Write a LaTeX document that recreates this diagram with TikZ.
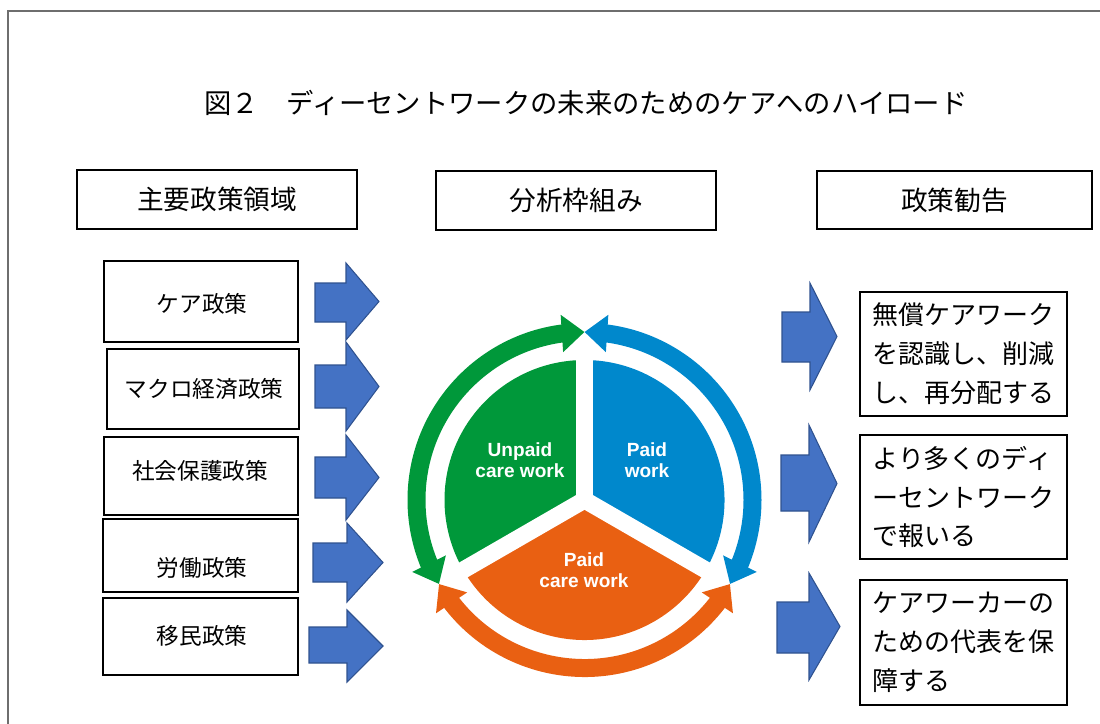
\documentclass[tikz,border=0pt]{standalone}
\usepackage{fontspec}
\setmainfont{Noto Sans CJK JP}
\newfontfamily\latsans{Liberation Sans}
\usetikzlibrary{arrows.meta,bending,calc}
\definecolor{cgreen}{RGB}{0,152,58}
\definecolor{cblue}{RGB}{0,136,204}
\definecolor{corange}{RGB}{233,96,18}
\definecolor{bafill}{RGB}{68,114,196}
\definecolor{baline}{RGB}{47,82,143}
\definecolor{framegray}{RGB}{110,110,110}
\newcommand\myblockarrow[8]{%
  \filldraw[blockarr] (#1,#2) -- (#4,#2) -- (#4,#5) -- (#7,#8) -- (#4,#6) -- (#4,#3) -- (#1,#3) -- cycle;}
\begin{document}
\begin{tikzpicture}[x=0.75pt,y=-0.75pt,
  headbox/.style={draw=black,line width=0.9pt,inner sep=0pt,font=\fontsize{20}{24}\selectfont},
  leftbox/.style={draw=black,line width=2.2pt,inner sep=0pt},
  lefttext/.style={font=\fontsize{17}{20}\selectfont,inner sep=0pt},
  rightbox/.style={draw=black,line width=2.2pt,inner sep=0pt,align=left,minimum width=155.25pt,font=\fontsize{19.5}{29.2}\selectfont},
  blockarr/.style={fill=bafill,draw=baline,line width=0.8pt,line join=miter},
  seclabel/.style={text=white,font=\latsans\bfseries\fontsize{14.3}{16}\selectfont,align=center,inner sep=0pt},
  cyclearr/.style={line width=13.5pt,arrows={Triangle[width=27pt,length=17pt]-Triangle[width=27pt,length=17pt]}}
]
\useasboundingbox (0,0) rectangle (1100,724);
\draw[framegray,line width=0.8pt] (8,724) -- (8,11) -- (1100,11);

% title
\node[font=\fontsize{20.5}{24}\selectfont,inner sep=0pt] (title) at (586,103) {図２　ディーセントワークの未来のためのケアへのハイロード};

% headers
\node[headbox,minimum width=210pt,minimum height=44.25pt] (hA) at (217,199.5) {主要政策領域};
\node[headbox,minimum width=210pt,minimum height=44.25pt] (hB) at (576,200.5) {分析枠組み};
\node[headbox,minimum width=206.25pt,minimum height=43.5pt] (hC) at (954.5,200) {政策勧告};

% left boxes
\node[leftbox,minimum width=145.5pt,minimum height=60.75pt] (b1) at (201,301.5) {};
\node[leftbox,minimum width=144pt,minimum height=60pt] (b2) at (203,389) {};
\node[leftbox,minimum width=145.5pt,minimum height=58.5pt] (b3) at (201,476) {};
\node[leftbox,minimum width=146.25pt,minimum height=54.75pt] (b4) at (200.5,555.5) {};
\node[leftbox,minimum width=146.25pt,minimum height=57.75pt] (b5) at (200.5,636.5) {};
\node[lefttext] (t1) at (202,304) {ケア政策};
\node[lefttext] (t2) at (204,389) {マクロ経済政策};
\node[lefttext] (t3) at (200,471) {社会保護政策};
\node[lefttext] (t4) at (202,568) {労働政策};
\node[lefttext] (t5) at (202,636) {移民政策};

% left block arrows
\myblockarrow{315}{283}{322}{346}{263}{340}{379}{301.5}
\myblockarrow{315}{365}{408}{346}{342}{431}{379}{386.5}
\myblockarrow{315}{457}{498}{346}{435}{520}{379}{477.5}
\myblockarrow{313}{543}{582}{347}{523}{602}{383}{562.5}
\myblockarrow{309}{627}{663}{347}{610}{682}{383}{646}

% right block arrows
\myblockarrow{782}{312}{362}{810}{283}{390}{837}{336.5}
\myblockarrow{781}{455}{511}{809}{425}{542}{837}{483.5}
\myblockarrow{777}{602}{653}{809}{573}{680}{840}{626.5}

% right boxes
\node[rightbox,minimum height=93pt] (r1) at (963.5,354) {無償ケアワーク\\を認識し、削減\\し、再分配する};
\node[rightbox,minimum height=93pt] (r2) at (963.5,497) {より多くのディ\\ーセントワーク\\で報いる};
\node[rightbox,minimum height=93.75pt] (r3) at (963.5,642.5) {ケアワーカーの\\ための代表を保\\障する};

% circle
\coordinate (c) at (584.5,500);
\fill[cgreen] (c) -- ++(-90:140) arc[start angle=-90,end angle=-210,radius=140] -- cycle;
\fill[cblue] (c) -- ++(30:140) arc[start angle=30,end angle=-90,radius=140] -- cycle;
\fill[corange] (c) -- ++(-210:140) arc[start angle=-210,end angle=-330,radius=140] -- cycle;
\draw[white,line width=12.75pt] (c) -- ++(-90:150);
\draw[white,line width=12.75pt] (c) -- ++(-210:150);
\draw[white,line width=12.75pt] (c) -- ++(-330:150);
\node[seclabel] (lu) at (520,460) {Unpaid\\care work};
\node[seclabel] (lp) at (647,460) {Paid\\work};
\node[seclabel] (lc) at (584,570) {Paid\\care work};

% cycle arrows
\draw[cyclearr,cgreen] ($(c)+(-90:168)$) arc[start angle=-90,end angle=-210,radius=168];
\draw[cyclearr,cblue] ($(c)+(-90:168)$) arc[start angle=-90,end angle=30,radius=168];
\draw[cyclearr,corange] ($(c)+(-210:168)$) arc[start angle=-210,end angle=-330,radius=168];
\end{tikzpicture}
\end{document}
